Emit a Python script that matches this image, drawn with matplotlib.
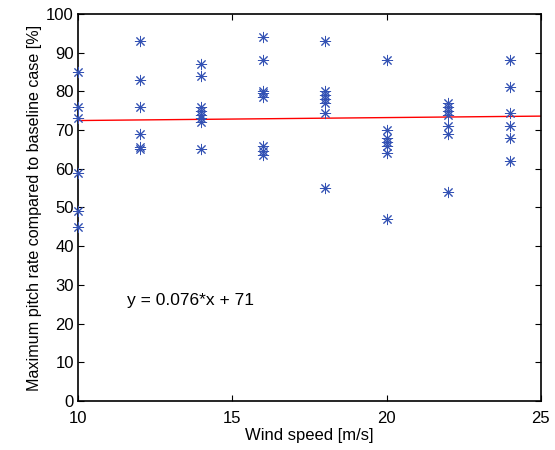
import numpy as np
import matplotlib
matplotlib.use("Agg")
import matplotlib.pyplot as plt

plt.rcParams['font.family'] = ['Liberation Sans', 'DejaVu Sans']

wind = [10, 12, 14, 16, 18, 20, 22, 24]
rates = {
    10: [85, 76, 73, 59, 49, 45],
    12: [93, 83, 76, 69, 65.5, 65],
    14: [87, 84, 76, 75, 74, 73, 72, 65],
    16: [94, 88, 80, 79.5, 78.5, 66, 64.5, 63.5],
    18: [93, 80, 79, 78, 77, 74.5, 55],
    20: [88, 70, 68, 67, 66, 64, 47],
    22: [77, 76, 75, 74, 71, 69, 54],
    24: [88, 81, 74.5, 71, 68, 62],
}
slope = 0.076
intercept = 71.7
fit_label = "y = 0.076*x + 71"

xs = np.concatenate([[w] * len(rates[w]) for w in wind])
ys = np.concatenate([rates[w] for w in wind])

fig = plt.figure(figsize=(5.55, 4.5), dpi=100)
ax = fig.add_axes([0.1405, 0.109, 0.834, 0.860])

ax.plot(xs, ys, linestyle='none', marker=(8, 2, 0), markersize=8,
        markeredgewidth=0.7, color='#3452b4', clip_on=False, zorder=3)
xl = np.array([10, 25])
ax.plot(xl, slope * xl + intercept, color='red', lw=1)

ax.text(11.6, 26, fit_label, fontsize=12.5, va='center', ha='left')

ax.set_xlim(10, 25)
ax.set_ylim(0, 100)
ax.set_xticks([10, 15, 20, 25])
ax.set_yticks(range(0, 101, 10))
ax.tick_params(direction='in', top=True, right=True, labelsize=12, length=4)
ax.tick_params(axis='x', pad=7)
ax.tick_params(axis='y', pad=3)
ax.set_xlabel('Wind speed [m/s]', fontsize=12, labelpad=2)
ax.set_ylabel('Maximum pitch rate compared to baseline case [%]', fontsize=11.6, labelpad=3)
for s in ax.spines.values():
    s.set_linewidth(1.2)

fig.savefig('out.png', dpi=100)
